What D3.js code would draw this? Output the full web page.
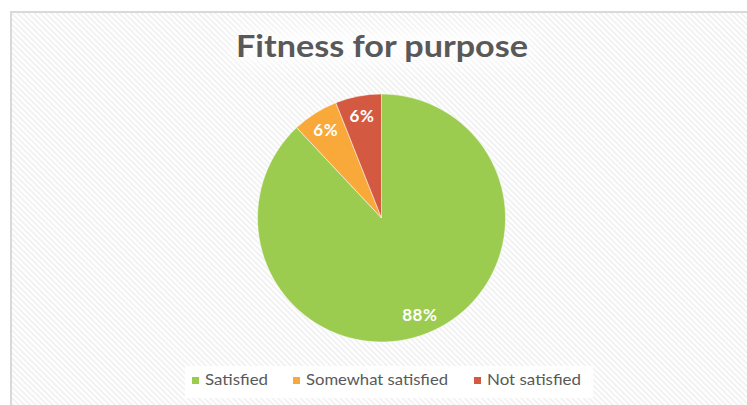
<!DOCTYPE html>
<html>
<head>
<meta charset="utf-8">
<script src="https://cdn.jsdelivr.net/npm/d3@7"></script>
<style>
  html, body { margin: 0; padding: 0; background: #ffffff; }
  svg { display: block; }
</style>
</head>
<body>
<svg id="chart" width="747" height="405"></svg>
<script>
// Survey results: fitness for purpose
const categories = ["Satisfied", "Somewhat satisfied", "Not satisfied"];
const shares = [88, 6, 6];
const sliceColors = ["#9BCB4F", "#F9A93A", "#D35A40"];
const chartTitle = "Fitness for purpose";

const svg = d3.select("#chart");
const W = 747, H = 405;
const fontFamily = "'Century Gothic', 'Lato', 'Open Sans', sans-serif";

// Diagonal hatch for the chart area background
const defs = svg.append("defs");
const pat = defs.append("pattern")
  .attr("id", "hatch")
  .attr("patternUnits", "userSpaceOnUse")
  .attr("width", 4).attr("height", 4)
  .attr("patternTransform", "rotate(45)");
pat.append("rect").attr("width", 4).attr("height", 4).attr("fill", "#ffffff");
pat.append("rect").attr("width", 4).attr("height", 2).attr("fill", "#f2f2f2");

const glow = defs.append("filter").attr("id", "soft")
  .attr("x", "-30%").attr("y", "-60%").attr("width", "160%").attr("height", "220%");
glow.append("feGaussianBlur").attr("stdDeviation", 9);

// Chart area
svg.append("rect")
  .attr("x", 11).attr("y", 12)
  .attr("width", W).attr("height", H)
  .attr("fill", "url(#hatch)")
  .attr("stroke", "#d9d9d9").attr("stroke-width", 2);

// Soft white glow behind the title, white panel behind the legend
svg.append("rect")
  .attr("x", 235).attr("y", 32).attr("width", 295).attr("height", 30)
  .attr("fill", "#ffffff").attr("opacity", 0.85).attr("filter", "url(#soft)");
svg.append("rect")
  .attr("x", 185).attr("y", 366).attr("width", 408).attr("height", 32)
  .attr("fill", "#ffffff");

// Title
svg.append("text")
  .attr("x", 236).attr("y", 57)
  .attr("textLength", 292)
  .attr("lengthAdjust", "spacingAndGlyphs")
  .attr("font-family", fontFamily)
  .attr("font-weight", "bold")
  .attr("font-size", 31)
  .attr("fill", "#595959")
  .text(chartTitle);

// Pie
const cx = 381.5, cy = 218, radius = 124;
const data = categories.map((c, i) => ({ name: c, value: shares[i], color: sliceColors[i] }));
const pie = d3.pie().sort(null).value(d => d.value);
const arc = d3.arc().innerRadius(0).outerRadius(radius);
const labelArc = d3.arc().innerRadius(radius * 0.84).outerRadius(radius * 0.84);

const g = svg.append("g").attr("transform", `translate(${cx},${cy})`);
const arcs = pie(data);
g.selectAll("path.slice")
  .data(arcs)
  .join("path")
  .attr("class", "slice")
  .attr("d", arc)
  .attr("fill", d => d.data.color)
  .attr("stroke", "#ffffff")
  .attr("stroke-width", 0.5);

g.selectAll("text.val")
  .data(arcs)
  .join("text")
  .attr("class", "val")
  .attr("transform", d => `translate(${labelArc.centroid(d)})`)
  .attr("text-anchor", "middle")
  .attr("dy", "0.35em")
  .attr("font-family", fontFamily)
  .attr("font-weight", "bold")
  .attr("font-size", 17)
  .attr("letter-spacing", 0.6)
  .attr("fill", "#ffffff")
  .text(d => d.data.value + "%");

// Legend
const legendX = [192, 293, 474];
const legendTextW = [63, 142, 94];
const legend = svg.append("g");
const items = legend.selectAll("g.item")
  .data(data)
  .join("g")
  .attr("class", "item")
  .attr("transform", (d, i) => `translate(${legendX[i]},377)`);
items.append("rect")
  .attr("width", 7).attr("height", 7)
  .attr("fill", d => d.color);
items.append("text")
  .attr("x", 13).attr("y", 8)
  .attr("textLength", (d, i) => legendTextW[i])
  .attr("lengthAdjust", "spacingAndGlyphs")
  .attr("font-family", fontFamily)
  .attr("font-size", 15)
  .attr("fill", "#595959")
  .text(d => d.name);
</script>
</body>
</html>
